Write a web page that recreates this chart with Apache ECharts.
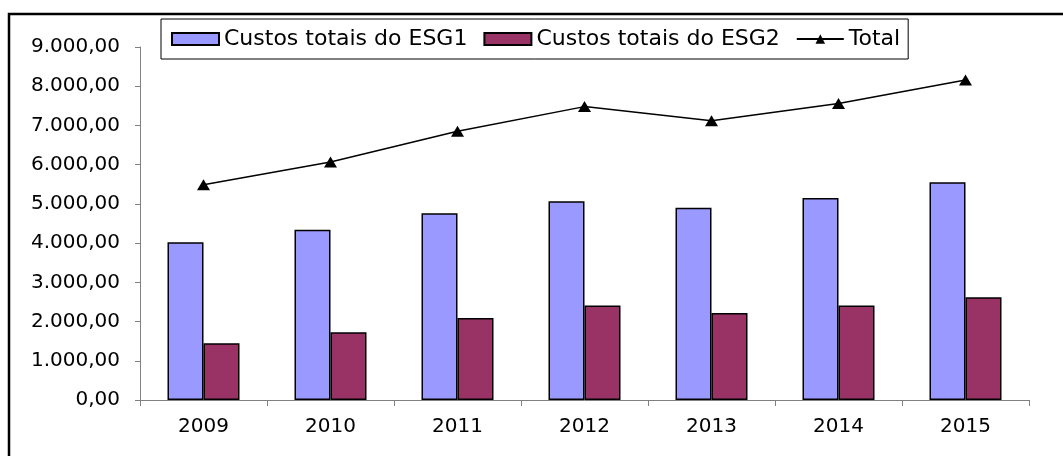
<!DOCTYPE html>
<html>
<head>
<meta charset="utf-8">
<script src="https://cdn.jsdelivr.net/npm/echarts@6/dist/echarts.min.js"></script>
<style>
  html, body { margin: 0; padding: 0; background: #fff; }
  #chart { width: 1063px; height: 456px; }
</style>
</head>
<body>
<div id="chart"></div>
<script>
// dados
const anos = ["2009", "2010", "2011", "2012", "2013", "2014", "2015"];
const custosESG1 = [4020, 4340, 4760, 5070, 4900, 5150, 5550];
const custosESG2 = [1450, 1730, 2090, 2410, 2220, 2410, 2620];
const total = [5490, 6070, 6850, 7480, 7120, 7560, 8160];

const fonte = "'DejaVu Sans', 'Liberation Sans', Arial, sans-serif";

// 9000 -> "9.000,00"
const formatar = (v) => {
  const partes = v.toFixed(2).split(".");
  const inteiro = partes[0].replace(/\B(?=(\d{3})+(?!\d))/g, ".");
  return inteiro + "," + partes[1];
};

const myChart = echarts.init(document.getElementById("chart"));

const options = {
  animation: false,
  backgroundColor: "#fff",
  textStyle: { fontFamily: fonte },
  // moldura externa
  graphic: [
    {
      type: "rect",
      shape: { x: 9, y: 14, width: 1070, height: 460 },
      style: { fill: "none", stroke: "#000", lineWidth: 2.5 },
      silent: true,
    },
  ],
  legend: {
    left: 161,
    top: 19,
    padding: [9, 8, 9, 10],
    itemGap: 16,
    itemHeight: 12,
    itemWidth: 47,
    borderColor: "#000",
    borderWidth: 1,
    textStyle: { fontSize: 22, color: "#000", fontFamily: fonte },
    data: [
      { name: "Custos totais do ESG1", icon: "rect" },
      { name: "Custos totais do ESG2", icon: "rect" },
      { name: "Total" },
    ],
  },
  grid: {
    left: 140,
    right: 34,
    top: 47,
    bottom: 56,
  },
  xAxis: {
    type: "category",
    data: anos,
    axisLine: { lineStyle: { color: "#808080", width: 1 } },
    axisTick: { show: true, length: 6, lineStyle: { color: "#808080" } },
    axisLabel: { color: "#000", fontSize: 20, margin: 17, fontFamily: fonte },
  },
  yAxis: {
    type: "value",
    min: 0,
    max: 9000,
    interval: 1000,
    splitLine: { show: false },
    axisLine: { show: true, lineStyle: { color: "#808080", width: 1 } },
    axisTick: { show: true, length: 5, lineStyle: { color: "#808080" } },
    axisLabel: {
      color: "#000",
      fontSize: 20,
      margin: 20,
      fontFamily: fonte,
      formatter: formatar,
    },
  },
  series: [
    {
      name: "Custos totais do ESG1",
      type: "bar",
      data: custosESG1,
      barWidth: 36,
      barGap: "0%",
      itemStyle: { color: "#9999FF", borderColor: "#000", borderWidth: 1.5 },
    },
    {
      name: "Custos totais do ESG2",
      type: "bar",
      data: custosESG2,
      barWidth: 36,
      barGap: "0%",
      itemStyle: { color: "#993366", borderColor: "#000", borderWidth: 1.5 },
    },
    {
      name: "Total",
      type: "line",
      data: total,
      symbol: "triangle",
      symbolSize: [13, 11],
      lineStyle: { color: "#000", width: 1.5 },
      itemStyle: { color: "#000" },
      z: 5,
    },
  ],
};

myChart.setOption(options);
</script>
</body>
</html>
